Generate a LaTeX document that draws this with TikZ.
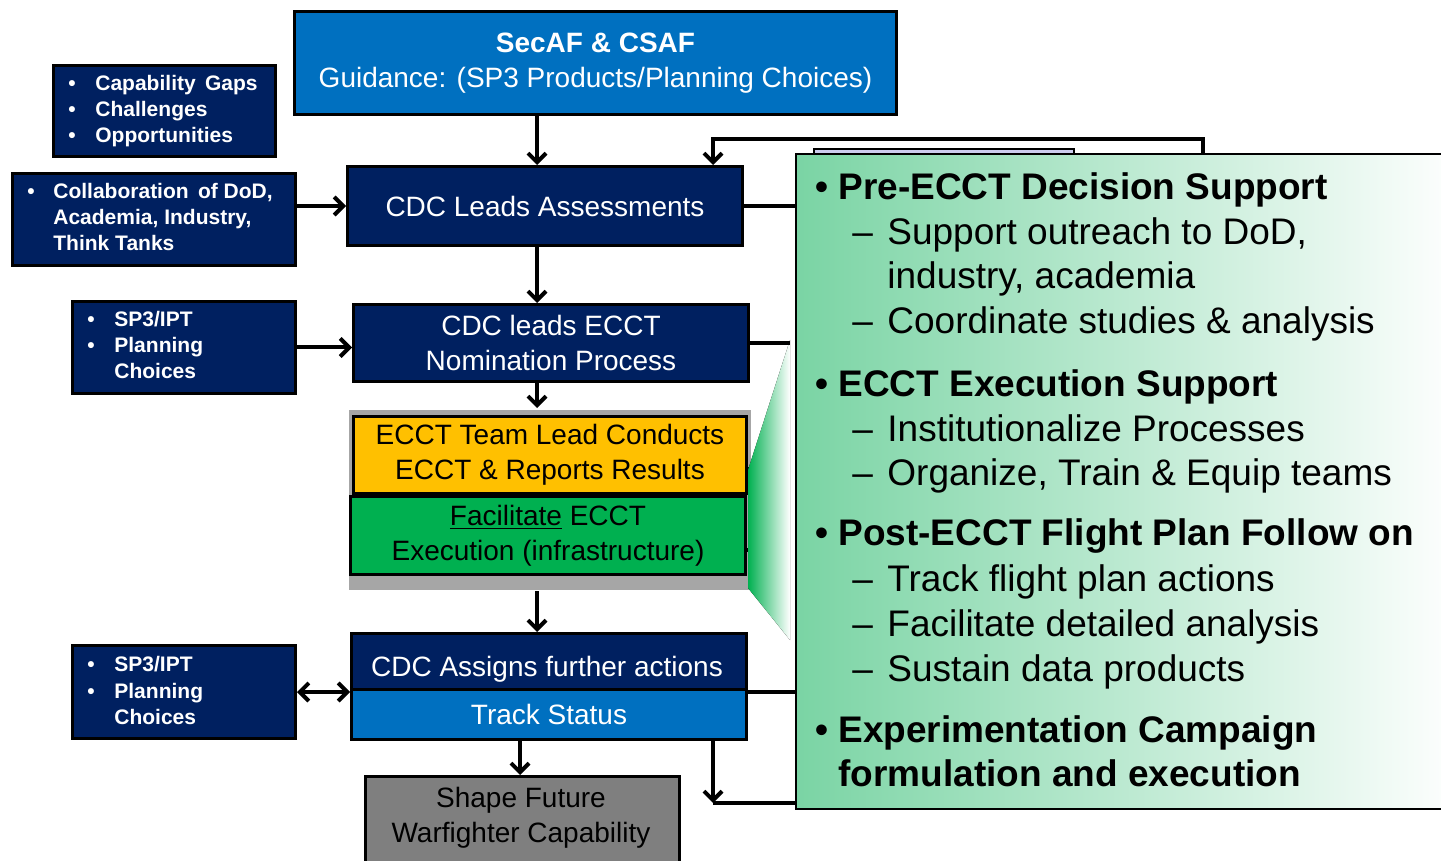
\documentclass[tikz,border=0pt]{standalone}
\usepackage{fontspec}
\setmainfont{Liberation Sans}
\usetikzlibrary{arrows.meta,calc}
\definecolor{navy}{RGB}{0,32,96}
\definecolor{mblue}{RGB}{0,112,192}
\definecolor{gold}{RGB}{255,192,0}
\definecolor{fgreen}{RGB}{0,176,80}
\definecolor{lgreen}{RGB}{122,212,164}
\definecolor{bggray}{RGB}{166,166,166}
\definecolor{dgray}{RGB}{127,127,127}
\definecolor{lav}{RGB}{204,204,238}
\begin{document}
\begin{tikzpicture}[x=0.5pt,y=-0.5pt,
  box/.style={draw=black, line width=1.5pt, inner sep=0pt, anchor=north west, align=center},
  navybox/.style={box, fill=navy, text=white, font=\fontsize{14}{17.5}\selectfont},
  bluebox/.style={box, fill=mblue, text=white, font=\fontsize{14}{17.5}\selectfont},
  smallbox/.style={box, fill=navy},
  st/.style={anchor=base west, inner sep=0pt, text=white, font=\fontsize{10.5}{13}\selectfont\bfseries},
  ct/.style={anchor=base west, inner sep=0pt, font=\fontsize{18.5}{22}\selectfont},
  ctb/.style={ct, font=\fontsize{18.5}{22}\selectfont\bfseries},
  conn/.style={draw=black, line width=2pt},
  arr/.style={conn, -{Straight Barb[length=4.5pt,width=9pt]}},
  darr/.style={conn, {Straight Barb[length=4.5pt,width=9pt]}-{Straight Barb[length=4.5pt,width=9pt]}}
]
\useasboundingbox (0,0) rectangle (1441,861);

% coordinates for connector routes
\coordinate (ax) at (537,0);
\coordinate (bx) at (520,0);
\coordinate (tl) at (713,139);
\coordinate (tr) at (1203,139);
\coordinate (bt) at (713,803);

% lavender tab behind callout
\node[box, fill=lav, line width=1pt, minimum width=130pt, minimum height=6pt] (tab) at (813,148) {};

% callout
\node[box, line width=1.2pt, left color=lgreen, right color=white, minimum width=332.5pt, minimum height=327.5pt] (co) at (795,153) {};

% main boxes
\node[bluebox, minimum width=301pt, minimum height=51.5pt] (sec) at (293,10) {\textbf{SecAF \& CSAF}\\Guidance: (SP3 Products/Planning Choices)};
\node[navybox, minimum width=197.5pt, minimum height=39.5pt] (cla) at (346,165) {CDC Leads Assessments};
\node[navybox, minimum width=197.5pt, minimum height=38.5pt] (nom) at (352,303) {CDC leads ECCT\\Nomination Process};
\node[box, draw=none, fill=bggray, minimum width=201pt, minimum height=90pt] (gb) at (347,408) {};

% stubs behind wedge
\node[box, fill=gold, font=\fontsize{14}{17.5}\selectfont, minimum width=196.5pt, minimum height=38.5pt] (yel) at (352,415) {ECCT Team Lead Conducts\\ECCT \& Reports Results};
\node[box, fill=fgreen, font=\fontsize{14}{17.5}\selectfont, minimum width=197.5pt, minimum height=39pt] (grn) at (349,495) {\underline{Facilitate} ECCT\\Execution (infrastructure)};
\draw[conn] ([yshift=-7pt]yel.east) -- ++(4,0);
\draw[conn] ([yshift=-7pt]grn.east) -- ++(4,0);

% wedge
\fill[left color=fgreen, right color=white] (748,470) -- (790,340) -- (790,640) -- (748,588) -- cycle;

\node[navybox, minimum width=197.5pt, minimum height=28pt] (ca) at (350,632) {};
\node[inner sep=0pt, text=white, font=\fontsize{14}{17.5}\selectfont] (cat) at (547,669) {CDC Assigns further actions};
\node[bluebox, minimum width=197.5pt, minimum height=25pt] (ts) at (350,688) {Track Status};
\node[box, fill=dgray, minimum width=157pt, minimum height=52.5pt] (sf) at (364,775) {};
\node[inner sep=0pt, align=center, font=\fontsize{14}{17.5}\selectfont] (sft) at (521,818) {Shape Future\\Warfighter Capability};

% left boxes
\node[smallbox, minimum width=111pt, minimum height=45.5pt] (cap) at (52,64) {};
\node[st] (cap1b) at (68,91) {•};  \node[st] (cap1) at (95,91) {Capability\, Gaps};
\node[st] (cap2b) at (68,117) {•}; \node[st] (cap2) at (95,117) {Challenges};
\node[st] (cap3b) at (68,143) {•}; \node[st] (cap3) at (95,143) {Opportunities};

\node[smallbox, minimum width=141.5pt, minimum height=46pt] (col) at (11,172) {};
\node[st] (col1b) at (27,199) {•}; \node[st] (col1) at (53,199) {Collaboration\, of DoD,};
\node[st] (col2) at (53,225) {Academia, Industry,};
\node[st] (col3) at (53,251) {Think Tanks};

\node[smallbox, minimum width=111.5pt, minimum height=46pt] (sa) at (71,300) {};
\node[st] (sa1b) at (87,327) {•}; \node[st] (sa1) at (114,327) {SP3/IPT};
\node[st] (sa2b) at (87,353) {•}; \node[st] (sa2) at (114,353) {Planning};
\node[st] (sa3) at (114,379) {Choices};

\node[smallbox, minimum width=111.5pt, minimum height=46.5pt] (sb) at (71,644) {};
\node[st] (sb1b) at (87,671) {•}; \node[st] (sb1) at (114,671) {SP3/IPT};
\node[st] (sb2b) at (87,698) {•}; \node[st] (sb2) at (114,698) {Planning};
\node[st] (sb3) at (114,724) {Choices};

% callout text
\node[ctb] (b1b) at (815,200) {•}; \node[ctb] (b1) at (838,200) {Pre-ECCT Decision Support};
\node[ct] (d11) at (852,245) {–}; \node[ct] (t11) at (887,245) {Support outreach to DoD,};
\node[ct] (t11b) at (887,289) {industry, academia};
\node[ct] (d12) at (852,334) {–}; \node[ct] (t12) at (887,334) {Coordinate studies \& analysis};
\node[ctb] (b2b) at (815,396) {•}; \node[ctb] (b2) at (838,396) {ECCT Execution Support};
\node[ct] (d21) at (852,441) {–}; \node[ct] (t21) at (887,441) {Institutionalize Processes};
\node[ct] (d22) at (852,485) {–}; \node[ct] (t22) at (887,485) {Organize, Train \& Equip teams};
\node[ctb] (b3b) at (815,545) {•}; \node[ctb] (b3) at (838,545) {Post-ECCT Flight Plan Follow on};
\node[ct] (d31) at (852,591) {–}; \node[ct] (t31) at (887,591) {Track flight plan actions};
\node[ct] (d32) at (852,636) {–}; \node[ct] (t32) at (887,636) {Facilitate detailed analysis};
\node[ct] (d33) at (852,681) {–}; \node[ct] (t33) at (887,681) {Sustain data products};
\node[ctb] (b4b) at (815,742) {•}; \node[ctb] (b4) at (838,742) {Experimentation Campaign};
\node[ctb] (b4c) at (838,786) {formulation and execution};

% connectors
\draw[arr] (sec.south -| ax) -- (cla.north -| ax);
\draw[arr] (cla.south -| ax) -- (nom.north -| ax);
\draw[arr] (nom.south -| ax) -- (gb.north -| ax);
\draw[arr] (gb.south -| ax) -- (ca.north -| ax);
\draw[arr] (ts.south -| bx) -- (sf.north -| bx);
\draw[arr] (cla.west -| col.east) -- (cla.west);
\draw[arr] (sa.east) -- (sa.east -| nom.west);
\draw[darr] (sb.east) -- (sb.east -| ca.west);
\draw[conn] (cla.east) -- (cla.east -| co.west);
\draw[conn] (nom.east) -- (nom.east -| 790,0);
\draw[conn] ([yshift=-2pt]ts.north east) -- ([yshift=-2pt]ts.north east -| co.west);
\draw[arr] (co.north -| tr) -- (tr) -- (tl) -- (tl |- cla.north);
\draw[arr] (ts.south -| bt) -- (bt);
\draw[conn] (bt) -- (bt -| co.west);
\end{tikzpicture}
\end{document}
